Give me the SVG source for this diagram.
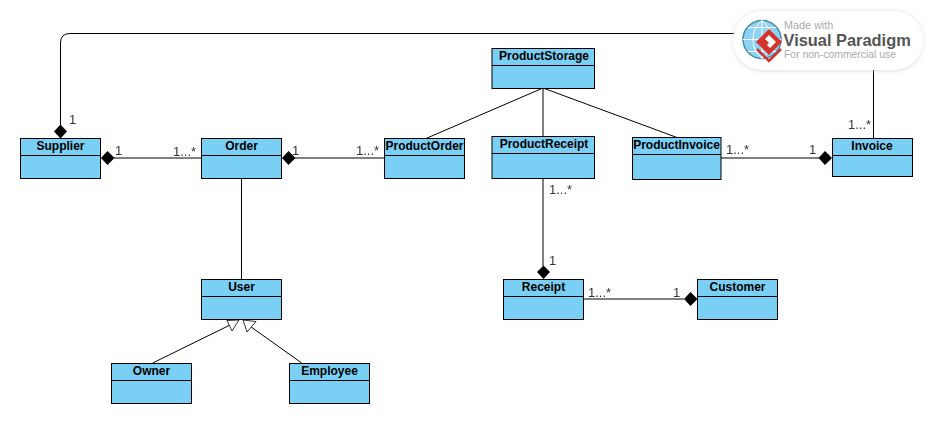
<svg xmlns="http://www.w3.org/2000/svg" width="933" height="424" viewBox="0 0 933 424">
<defs>
<filter id="sh" x="-10%" y="-20%" width="120%" height="140%"><feGaussianBlur stdDeviation="2"/></filter>
</defs>
<style>
.box{fill:#7ACFF5;stroke:#000;stroke-width:1}
.div{stroke:#000;stroke-width:1}
.t{font:bold 12px "Liberation Sans",Arial,sans-serif;fill:#000;text-anchor:middle}
.m{font:13px "Liberation Sans",Arial,sans-serif;fill:#333}
#labels{opacity:.99}
#connectors path{fill:none;stroke:#000;stroke-width:1}
#connectors .tri{fill:#fff;stroke:#000;stroke-width:0.8}
#diamonds path{fill:#000}
</style>
<rect width="933" height="424" fill="#fff"/>
<g id="connectors">
<path d="M60.500 125V43Q60.500 33.500 70 33.500H873.500V138.500"/>
<path d="M114 158H201.500"/>
<path d="M295 158H384.500"/>
<path d="M241.500 178V279"/>
<path d="M543 88L426 138.500"/>
<path d="M543 88V136.500"/>
<path d="M543 88L677 137.500"/>
<path d="M721 158H819"/>
<path d="M543 178V266"/>
<path d="M583.500 299H684"/>
<path d="M152.700 363L230 325"/>
<path d="M301.700 363L250.700 326.700"/>
<path class="tri" d="M239 320L227 320.500L232 331Z"/>
<path class="tri" d="M243 320L256 321.500L247 332Z"/>
</g>
<g id="diamonds">
<path d="M60.500 124.500L67 131.500L60.500 138.500L54 131.500Z"/>
<path d="M101 158L107.500 151L114.500 158L107.500 165Z"/>
<path d="M282 158L288.500 151L295.500 158L288.500 165Z"/>
<path d="M818.500 158L825 151L832 158L825 165Z"/>
<path d="M543.500 265.500L550 272L543.500 279L537 272Z"/>
<path d="M684 299L690.500 292L697.500 299L690.500 306Z"/>
</g>
<g id="Supplier"><rect class="box" x="20.500" y="138.500" width="80" height="40"/><path class="div" d="M20.500 155.500H100.500"/><text class="t" x="60.500" y="150">Supplier</text></g>
<g id="Order"><rect class="box" x="201.500" y="138.500" width="80" height="40"/><path class="div" d="M201.500 155.500H281.500"/><text class="t" x="241.500" y="150">Order</text></g>
<g id="ProductOrder"><rect class="box" x="384.500" y="138.500" width="80" height="40"/><path class="div" d="M384.500 155.500H464.500"/><text class="t" x="424.500" y="150">ProductOrder</text></g>
<g id="ProductStorage"><rect class="box" x="492" y="48.500" width="102.500" height="40"/><path class="div" d="M492 65.500H594.500"/><text class="t" x="544" y="60">ProductStorage</text></g>
<g id="ProductReceipt"><rect class="box" x="492" y="136.500" width="102.500" height="42"/><path class="div" d="M492 153.500H594.500"/><text class="t" x="544" y="148">ProductReceipt</text></g>
<g id="ProductInvoice"><rect class="box" x="632.500" y="137.500" width="88.500" height="42"/><path class="div" d="M632.500 154.500H721"/><text class="t" x="676.500" y="149">ProductInvoice</text></g>
<g id="Invoice"><rect class="box" x="832.500" y="138.500" width="80" height="38"/><path class="div" d="M832.500 155.500H912.500"/><text class="t" x="872" y="150">Invoice</text></g>
<g id="User"><rect class="box" x="201.500" y="279.500" width="80" height="40"/><path class="div" d="M201.500 296.500H281.500"/><text class="t" x="241.500" y="291">User</text></g>
<g id="Owner"><rect class="box" x="111.500" y="363.500" width="80" height="40"/><path class="div" d="M111.500 380.500H191.500"/><text class="t" x="151.500" y="375">Owner</text></g>
<g id="Employee"><rect class="box" x="289.500" y="363.500" width="80" height="40"/><path class="div" d="M289.500 380.500H369.500"/><text class="t" x="329.500" y="375">Employee</text></g>
<g id="Receipt"><rect class="box" x="503.500" y="279.500" width="80" height="40"/><path class="div" d="M503.500 296.500H583.500"/><text class="t" x="543.500" y="291">Receipt</text></g>
<g id="Customer"><rect class="box" x="697.500" y="279.500" width="80" height="40"/><path class="div" d="M697.500 296.500H777.500"/><text class="t" x="737.500" y="291">Customer</text></g>
<g id="labels">
<text class="m" x="69" y="124">1</text>
<text class="m" x="115" y="155">1</text>
<text class="m" x="173" y="156">1...*</text>
<text class="m" x="292" y="155">1</text>
<text class="m" x="356" y="155">1...*</text>
<text class="m" x="726" y="154">1...*</text>
<text class="m" x="809" y="154">1</text>
<text class="m" x="848" y="129">1...*</text>
<text class="m" x="549" y="194">1...*</text>
<text class="m" x="549" y="265">1</text>
<text class="m" x="588" y="297">1...*</text>
<text class="m" x="673" y="297">1</text>
</g>
<g id="watermark">
<rect x="733" y="11" width="190" height="60" rx="29" fill="#ccc" opacity="0.6" filter="url(#sh)"/>
<rect x="733" y="11" width="190" height="59" rx="29" fill="#fff"/>
<circle cx="762" cy="39.500" r="19" fill="#8fd3f4" stroke="#4a8da8" stroke-width="1.500"/>
<path d="M743 39.500H781M762 20.500V58.500M748 27.500H776M748 51.500H776M762 20.500C750 30 750 48 762 58.500M762 20.500C774 30 774 48 762 58.500" fill="none" stroke="#fff" stroke-width="1"/>
<path d="M769 29L782 42L769 55L756 42Z" fill="#d6322c"/>
<path d="M757 49L769 61L781 49" fill="none" stroke="#d6322c" stroke-width="2.500"/>
<path d="M769 35L776 42L770 48L767 45L769 43L765 39Z" fill="#fff"/>
<text x="784" y="29" font-family="'Liberation Sans',Arial,sans-serif" font-size="10.800" fill="#aaa">Made with</text>
<text x="783.500" y="46" font-family="'Liberation Sans',Arial,sans-serif" font-size="16.400" font-weight="bold" fill="#555">Visual Paradigm</text>
<text x="784" y="58" font-family="'Liberation Sans',Arial,sans-serif" font-size="10.400" fill="#aaa">For non-commercial use</text>
</g>
</svg>
